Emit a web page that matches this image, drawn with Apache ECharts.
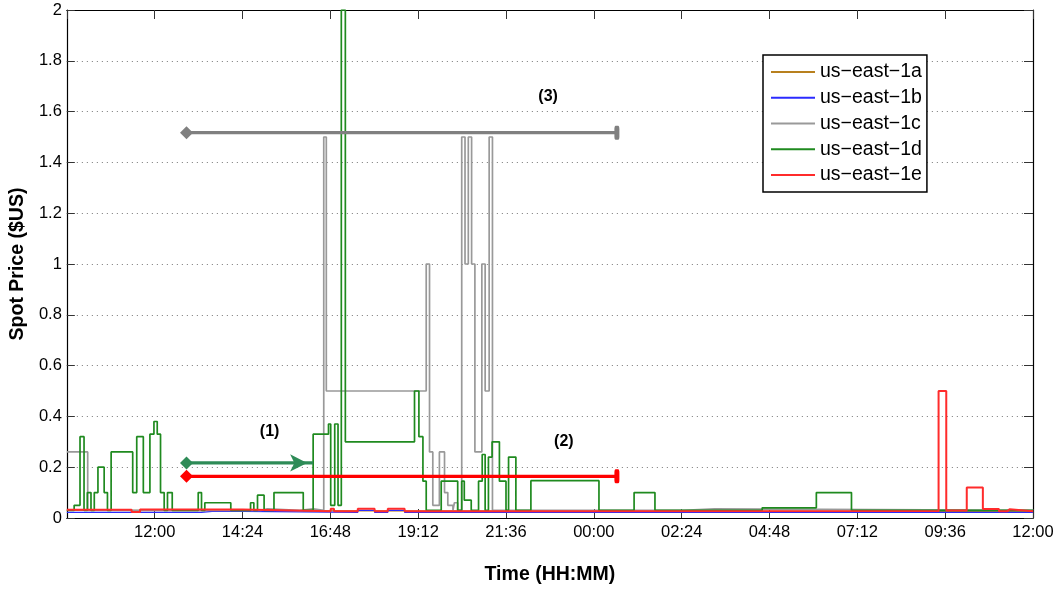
<!DOCTYPE html>
<html>
<head>
<meta charset="utf-8">
<script src="https://cdn.jsdelivr.net/npm/echarts@6/dist/echarts.min.js"></script>
<style>
  html, body { margin: 0; padding: 0; background: #fff; }
  #chart { width: 1062px; height: 590px; }
</style>
</head>
<body>
<div id="chart"></div>
<script>
// Spot price history per availability zone: [time (hours from day-1 midnight), price $US].
// Each value holds until the next change point.
const zone1a = [[9.60,0.030],[10.50,0.027],[22.00,0.026],[36.00,0.026]];
const zone1b = [[9.60,0.022],[13.28,0.027],[13.64,0.022],[17.55,0.030],[18.01,0.022],
                [18.37,0.030],[18.83,0.022],[36.00,0.022]];
const zone1c = [[9.60,0.26],[10.17,0.03],[14.90,0.036],[15.08,0.03],[15.96,0.036],[16.33,0.03],
                [16.62,1.50],[16.69,0.50],[19.42,1.00],[19.51,0.26],[19.60,0.05],[19.78,0.26],
                [19.92,0.10],[20.01,0.05],[20.15,0.03],[20.19,0.06],[20.28,0.03],[20.39,1.50],
                [20.48,1.00],[20.57,1.50],[20.66,1.00],[20.75,0.26],[20.94,1.00],[21.03,0.50],
                [21.14,1.50],[21.23,0.03],[26.45,0.036],[27.30,0.03],[36.00,0.03]];
const zone1d = [[9.60,0.03],[9.80,0.05],[9.96,0.32],[10.07,0.03],[10.16,0.10],[10.26,0.03],
                [10.35,0.10],[10.45,0.20],[10.62,0.10],[10.71,0.03],[10.81,0.26],[11.40,0.10],
                [11.51,0.32],[11.69,0.10],[11.87,0.33],[11.98,0.38],[12.07,0.33],[12.16,0.10],
                [12.26,0.03],[12.35,0.10],[12.48,0.03],[13.19,0.10],[13.28,0.03],[13.37,0.06],
                [14.08,0.03],[14.62,0.06],[14.71,0.03],[14.81,0.09],[14.99,0.03],[15.26,0.10],
                [16.06,0.03],[16.33,0.33],[16.75,0.37],[16.81,0.05],[16.92,0.37],[17.01,0.05],
                [17.10,2.00],[17.21,0.30],[19.10,0.50],[19.22,0.32],[19.33,0.145],[19.42,0.03],
                [19.83,0.145],[20.28,0.03],[20.39,0.145],[20.46,0.07],[20.65,0.03],[20.85,0.145],
                [20.95,0.25],[21.03,0.03],[21.12,0.24],[21.22,0.30],[21.42,0.145],[21.60,0.03],
                [21.67,0.24],[21.87,0.03],[22.28,0.147],[24.14,0.03],[25.10,0.10],[25.67,0.03],
                [28.60,0.04],[30.08,0.10],[31.04,0.03],[36.00,0.03]];
const zone1e = [[9.60,0.032],[11.37,0.024],[11.60,0.033],[14.40,0.027],[16.81,0.036],[16.90,0.027],
                [17.55,0.036],[18.01,0.027],[18.37,0.036],[18.83,0.027],[19.25,0.028],[33.42,0.50],
                [33.63,0.030],[34.19,0.12],[34.63,0.035],[35.07,0.027],[35.30,0.034],[35.36,0.027],
                [36.00,0.027]];

const zoneNames = ['us−east−1a', 'us−east−1b', 'us−east−1c', 'us−east−1d', 'us−east−1e'];

// Annotated intervals (hours) and their price levels.
const spanStart = 12.87;
const spanEnd = 24.63;
const riseTime = 16.33;          // (1) runs until zone 1d rises
const levelRise = 0.217;         // (1)
const levelBid = 0.164;          // (2)
const levelPeak = 1.517;         // (3)
const notes = [
  { name: '(1)', value: [15.14, 0.341] },
  { name: '(2)', value: [23.18, 0.302] },
  { name: '(3)', value: [22.75, 1.660] }
];

const xMin = 9.6, xMax = 36, xStep = 2.4;
const FONT = '"Liberation Sans", Arial, Helvetica, sans-serif';

function hhmm(v) {
  const m = ((Math.round(v * 60) % 1440) + 1440) % 1440;
  const h = Math.floor(m / 60), mm = m % 60;
  return String(h).padStart(2, '0') + ':' + String(mm).padStart(2, '0');
}

const zoneColors = ['#b8801e', '#2b2bff', '#999999', '#1f8a1f', '#ff2b2b'];
const zoneWidths = [1.2, 1.2, 1.7, 1.7, 2];
const zoneData = [zone1a, zone1b, zone1c, zone1d, zone1e];

const series = zoneData.map((d, i) => ({
  name: zoneNames[i],
  type: 'line',
  step: 'end',
  data: d,
  showSymbol: false,
  symbol: 'none',
  silent: true,
  lineStyle: { color: zoneColors[i], width: zoneWidths[i] },
  itemStyle: { color: zoneColors[i] },
  z: 2 + i
}));

function spanSeries(level, endTime, color, endSymbol) {
  return {
    type: 'line',
    silent: true,
    z: 10,
    showSymbol: true,
    lineStyle: { color: color, width: 3.2 },
    itemStyle: { color: color },
    data: [
      { value: [spanStart, level], symbol: 'diamond', symbolSize: 13 },
      Object.assign({ value: [endTime, level] }, endSymbol)
    ]
  };
}

series.push(spanSeries(levelPeak, spanEnd, '#808080',
  { symbol: 'roundRect', symbolSize: [5, 14] }));
series.push(spanSeries(levelBid, spanEnd, '#ff0000',
  { symbol: 'roundRect', symbolSize: [5, 14] }));
series.push(spanSeries(levelRise, riseTime, '#2e8b57',
  { symbol: 'arrow', symbolSize: [13, 17], symbolRotate: -90, symbolOffset: [-6, 0] }));

series.push({
  type: 'scatter',
  silent: true,
  symbolSize: 0,
  z: 11,
  itemStyle: { opacity: 1 },
  data: notes,
  label: {
    show: true,
    position: 'inside',
    formatter: p => p.name,
    color: '#000',
    fontFamily: FONT,
    fontWeight: 'bold',
    fontSize: 16
  }
});

const chart = echarts.init(document.getElementById('chart'), null, { renderer: 'canvas' });
chart.setOption({
  animation: false,
  backgroundColor: '#fff',
  grid: { left: 65, right: 29, top: 10, bottom: 71, containLabel: false },
  legend: {
    data: zoneNames,
    orient: 'vertical',
    left: 763,
    top: 55,
    icon: 'rect',
    itemWidth: 44,
    itemHeight: 2,
    itemGap: 0,
    padding: [4, 5, 4, 8],
    borderColor: '#000',
    borderWidth: 1.5,
    backgroundColor: '#fff',
    selectedMode: false,
    textStyle: { fontFamily: FONT, fontSize: 19.5, color: '#000', lineHeight: 25.8 }
  },
  xAxis: [{
    type: 'value',
    min: xMin, max: xMax, interval: xStep,
    position: 'bottom',
    name: 'Time (HH:MM)',
    nameLocation: 'middle',
    nameGap: 47,
    nameTextStyle: { fontFamily: FONT, fontWeight: 'bold', fontSize: 19.5, color: '#000' },
    axisLine: { show: true, onZero: false, lineStyle: { color: '#000', width: 1.2 } },
    axisTick: { show: true, inside: true, length: 9, lineStyle: { color: '#333', width: 1 } },
    axisLabel: {
      formatter: hhmm, showMinLabel: false, showMaxLabel: true,
      fontFamily: FONT, fontSize: 16.5, color: '#000', margin: 6
    },
    splitLine: { show: false }
  }, {
    type: 'value',
    min: xMin, max: xMax, interval: xStep,
    position: 'top',
    axisLine: { show: true, onZero: false, lineStyle: { color: '#000', width: 1.2 } },
    axisTick: { show: true, inside: true, length: 9, lineStyle: { color: '#333', width: 1 } },
    axisLabel: { show: false },
    splitLine: { show: false }
  }],
  yAxis: [{
    type: 'value',
    min: 0, max: 2, interval: 0.2,
    position: 'left',
    name: 'Spot Price ($US)',
    nameLocation: 'middle',
    nameGap: 35,
    nameTextStyle: { fontFamily: FONT, fontWeight: 'bold', fontSize: 19.5, color: '#000' },
    axisLine: { show: true, onZero: false, lineStyle: { color: '#000', width: 1.2 } },
    axisTick: { show: true, inside: true, length: 8, lineStyle: { color: '#333', width: 1 } },
    axisLabel: { fontFamily: FONT, fontSize: 16.5, color: '#000', margin: 5 },
    splitLine: { show: true, lineStyle: { color: '#777', width: 1, type: [1, 4] } }
  }, {
    type: 'value',
    min: 0, max: 2, interval: 0.2,
    position: 'right',
    axisLine: { show: true, onZero: false, lineStyle: { color: '#000', width: 1.2 } },
    axisTick: { show: true, inside: true, length: 9, lineStyle: { color: '#333', width: 1 } },
    axisLabel: { show: false },
    splitLine: { show: false }
  }],
  series: series
});
</script>
</body>
</html>
